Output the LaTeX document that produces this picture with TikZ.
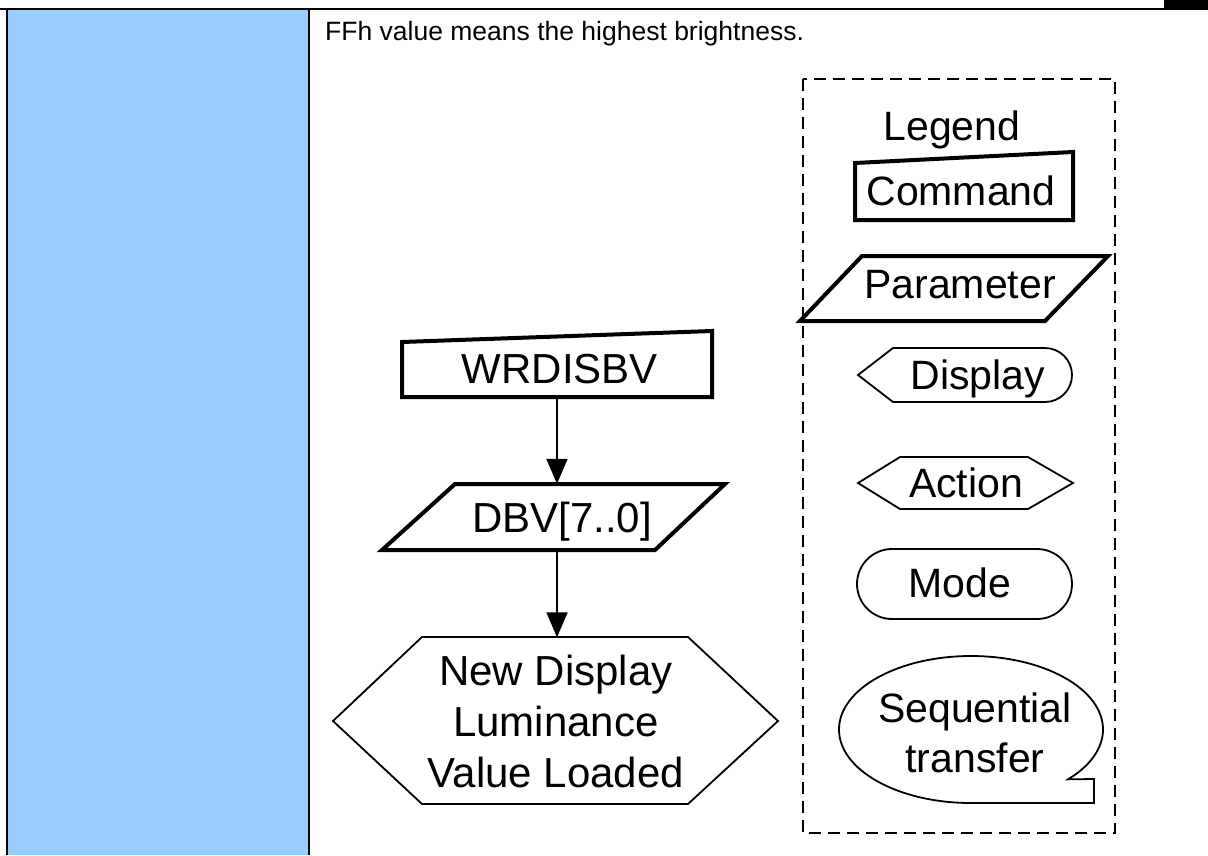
\documentclass[tikz,border=0pt]{standalone}
\usepackage{fontspec}
\setmainfont{Liberation Sans}
\usetikzlibrary{arrows.meta}
\definecolor{rowblue}{HTML}{99CCFF}

\tikzset{
  legendtext/.style={font=\fontsize{41}{50}\selectfont, inner sep=0pt, text height=29pt, text depth=0pt},
  legendlines/.style={font=\fontsize{41}{50}\selectfont, inner sep=0pt, align=center},
  flowtext/.style={font=\fontsize{42}{51}\selectfont, inner sep=0pt, text height=30pt, text depth=0pt},
  flowlines/.style={font=\fontsize{42}{51}\selectfont, inner sep=0pt, align=center},
  heavy/.style={line width=4pt, line join=miter},
  light/.style={line width=1.8pt, line join=miter},
  link/.style={line width=2pt, -{Triangle[width=21pt,length=25pt]}},
  legendframe/.style={line width=2pt, dash pattern=on 12pt off 7pt},
  rule/.style={line width=2pt}
}

\begin{document}
\begin{tikzpicture}[x=1pt,y=-1pt]
  \useasboundingbox (0,0) rectangle (1208,855);
  \fill[white] (0,0) rectangle (1208,855);

  % table frame and shaded first column
  \fill[rowblue] (7,10) rectangle (308,855);
  \draw[rule] (0,9) -- (1208,9);
  \fill[black] (1164,0) rectangle (1208,9);
  \draw[rule] (7,9) -- (7,855);
  \draw[rule] (309,9) -- (309,855);

  \node[font=\fontsize{26.5}{31}\selectfont, anchor=base west, inner sep=0pt] (note) at (325,40)
    {FFh value means the highest brightness.};

  % flow: command -> parameter -> action
  \coordinate (spine) at (557,0);
  \draw[heavy] (402,342) -- (712,331) -- (712,397) -- (402,397) -- cycle;
  \node[flowtext, minimum height=58pt] (wr) at (560,368) {WRDISBV};

  \draw[heavy] (455,484) -- (725,484) -- (655,550) -- (382,550) -- cycle;
  \node[flowtext, minimum height=66pt] (dbv) at (562,517) {DBV[7..0]};

  \draw[light] (333,721) -- (422,637) -- (688,637) -- (778,721) -- (688,804) -- (422,804) -- cycle;
  \node[flowlines, minimum height=167pt] (hex) at (556,721) {New Display\\Luminance\\Value Loaded};

  \draw[link] (wr.south -| spine) -- (dbv.north -| spine);
  \draw[link] (dbv.south -| spine) -- (hex.north -| spine);

  % legend
  \draw[legendframe] (803,79) rectangle (1115,833);
  \node[legendtext] (lg) at (952,126) {Legend};

  \draw[heavy] (855,163) -- (1073,152) -- (1073,220) -- (855,220) -- cycle;
  \node[legendtext] (lcmd) at (961,191) {Command};

  \draw[heavy] (862,256) -- (1108,256) -- (1045,321) -- (800,321) -- cycle;
  \node[legendtext] (lpar) at (960,284) {Parameter};

  \draw[light] (858,375) -- (893,348) -- (1045,348)
    arc[start angle=-90, end angle=90, radius=27] -- (893,402) -- cycle;
  \node[legendtext] (ldisp) at (978,375) {Display};

  \draw[light] (858,483) -- (900,457) -- (1028,457) -- (1073,483) -- (1028,509) -- (900,509) -- cycle;
  \node[legendtext] (lact) at (966,483) {Action};

  \draw[light] (892,549) -- (1037,549) arc[start angle=-90, end angle=90, radius=35]
    -- (892,619) arc[start angle=90, end angle=270, radius=35] -- cycle;
  \node[legendtext] (lmode) at (960,583) {Mode};

  \draw[light] (971,803) arc[start angle=90, end angle=402.7, x radius=132, y radius=73.5]
    -- (1094,779) -- (1094,803) -- cycle;
  \node[legendlines] (lseq) at (975,733) {Sequential\\transfer};
\end{tikzpicture}
\end{document}
